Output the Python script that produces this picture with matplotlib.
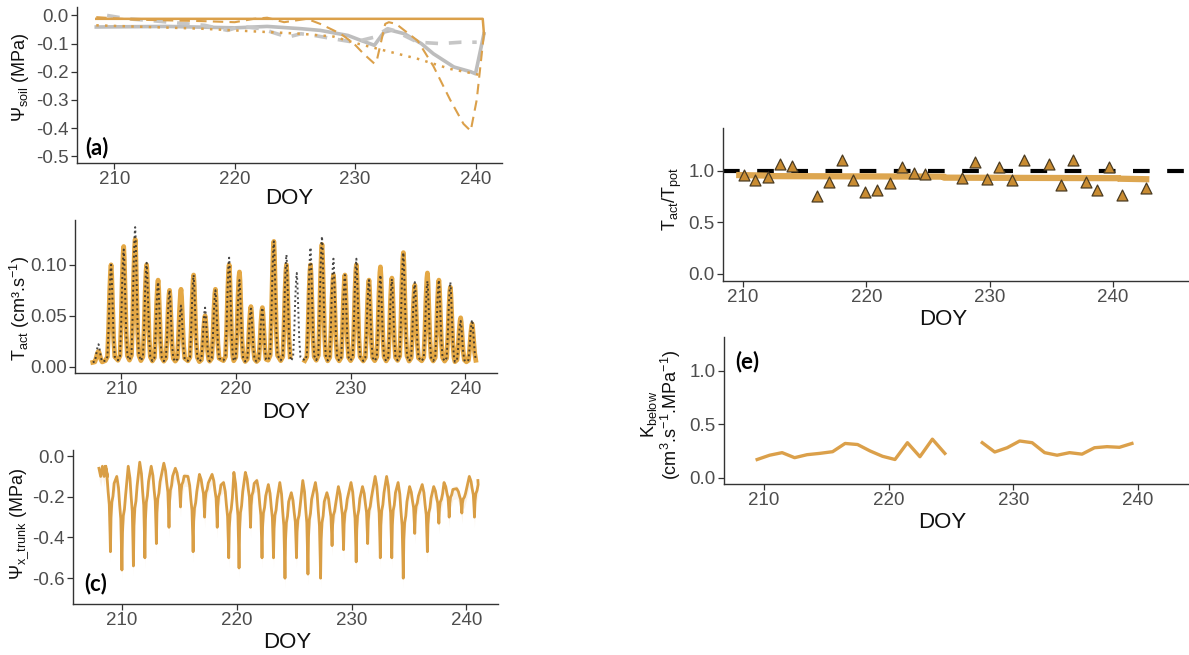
import numpy as np
import matplotlib
matplotlib.use("Agg")
import matplotlib.pyplot as plt

plt.rcParams['font.family'] = ['Liberation Sans', 'DejaVu Sans']
plt.rcParams['axes.unicode_minus'] = False
plt.rcParams['mathtext.fontset'] = 'custom'
plt.rcParams['mathtext.rm'] = 'Liberation Sans'
plt.rcParams['mathtext.it'] = 'Liberation Sans'

ORANGE = '#DBA04A'
GRAY = '#BDBDBD'
TICK_TXT = '#4D4D4D'
LINE_C = '#333333'

# ---- (a) soil water potential -------------------------------------------
a_orange_solid_x = [208.5, 240.6, 240.7]
a_orange_solid_y = [-0.012, -0.012, -0.065]
a_orange_dash_x = [208.5, 211.7, 217.2, 220.0, 221.6, 222.7, 224.1, 226.0, 227.1, 228.8, 229.9,
                   230.7, 231.6, 231.8, 232.5, 232.8, 233.4, 235.2, 236.5, 237.9, 239.0, 239.6,
                   240.1, 240.7]
a_orange_dash_y = [-0.006, -0.015, -0.02, -0.024, -0.012, -0.008, -0.024, -0.012, -0.03, -0.065, -0.1,
                   -0.136, -0.171, -0.16, -0.03, -0.024, -0.03, -0.09, -0.18, -0.3, -0.385, -0.41,
                   -0.3, -0.065]
a_orange_dot_x = [208.5, 217.2, 225.5, 228.2, 230.2, 232.4, 235.2, 237.9, 239.9, 240.5]
a_orange_dot_y = [-0.035, -0.047, -0.065, -0.075, -0.1, -0.124, -0.154, -0.19, -0.207, -0.213]
a_gray_solid_x = [208.5, 214.4, 220.0, 222.7, 225.5, 227.1, 229.4, 230.5, 231.6, 232.4, 233.0,
                  234.1, 235.5, 236.5, 238.2, 239.6, 240.0, 240.7]
a_gray_solid_y = [-0.041, -0.039, -0.044, -0.039, -0.047, -0.053, -0.071, -0.089, -0.106, -0.059,
                  -0.053, -0.065, -0.1, -0.136, -0.183, -0.2, -0.207, -0.065]
a_gray_dash_x = [209.4, 211.1, 213.0, 216.1, 217.5, 219.4, 220.5, 222.2, 223.5, 224.4, 225.5,
                 226.6, 228.2, 229.9, 231.6, 232.7, 233.2, 235.2, 237.1, 238.8, 240.1]
a_gray_dash_y = [0.0, -0.012, -0.018, -0.03, -0.035, -0.053, -0.039, -0.047, -0.065, -0.077, -0.065,
                 -0.071, -0.083, -0.095, -0.077, -0.047, -0.053, -0.095, -0.1, -0.095, -0.095]

# ---- (b) transpiration: daily peaks (model = orange, observed = dotted) ----
b_peak_doy = [208.0, 209.1, 210.2, 211.2, 212.2, 213.2, 214.2, 215.2, 216.3, 217.3, 218.2,
              219.4, 220.3, 221.3, 222.3, 223.3, 224.4, 225.3, 226.5, 227.5, 228.5, 229.5,
              230.5, 231.6, 232.6, 233.6, 234.6, 235.6, 236.7, 237.7, 238.7, 239.6, 240.6]
b_model_peak = [0.015, 0.100, 0.118, 0.125, 0.100, 0.085, 0.075, 0.076, 0.090, 0.050, 0.076,
                0.100, 0.093, 0.059, 0.058, 0.123, 0.100, np.nan, 0.100, 0.120, 0.090, 0.090,
                0.100, 0.085, 0.098, 0.087, 0.112, 0.080, 0.092, 0.085, 0.078, 0.048, 0.042]
b_obs_peak = [0.022, 0.100, 0.115, 0.137, 0.102, 0.083, 0.075, 0.060, 0.090, 0.058, 0.075,
              0.107, 0.085, 0.057, 0.058, 0.123, 0.110, 0.092, 0.117, 0.128, 0.106, 0.090,
              0.106, 0.085, 0.090, 0.086, 0.112, 0.083, 0.084, 0.085, 0.083, 0.045, 0.046]
b_night = 0.004
# typical shape of one daily peak (offset in days, fraction of peak)
b_shape_dt = [-0.5, -0.32, -0.22, -0.13, -0.05, 0.0, 0.05, 0.13, 0.22, 0.32]
b_shape_frac = [0.02, 0.06, 0.35, 0.72, 0.94, 1.0, 0.9, 0.6, 0.25, 0.06]

# ---- (c) trunk xylem water potential: predawn and midday minimum per day ----
c_lead_x = [208.0, 208.15, 208.3, 208.45, 208.6, 208.75]
c_lead_y = [-0.06, -0.1, -0.05, -0.1, -0.05, -0.1]
c_min_doy = [209.0, 210.0, 211.0, 212.0, 213.0, 214.1, 215.1, 216.2, 217.2, 218.3, 219.3,
             220.2, 221.2, 222.2, 223.2, 224.2, 225.2, 226.2, 227.3, 228.3, 229.3, 230.4,
             231.4, 232.5, 233.5, 234.5, 235.5, 236.6, 237.6, 238.5, 239.6, 240.7]
c_min = [-0.47, -0.56, -0.54, -0.50, -0.43, -0.35, -0.25, -0.47, -0.30, -0.35, -0.50,
         -0.55, -0.35, -0.50, -0.50, -0.60, -0.50, -0.58, -0.60, -0.44, -0.46, -0.52,
         -0.43, -0.50, -0.50, -0.60, -0.38, -0.47, -0.33, -0.30, -0.28, -0.30]
c_predawn = [-0.05, -0.10, -0.05, -0.03, -0.05, -0.035, -0.06, -0.10, -0.09, -0.09, -0.13,
             -0.08, -0.08, -0.12, -0.14, -0.13, -0.18, -0.12, -0.13, -0.18, -0.15, -0.13,
             -0.15, -0.10, -0.10, -0.13, -0.15, -0.14, -0.15, -0.13, -0.16, -0.10]
c_end = -0.12
c_shape_dt = [-0.45, -0.3, -0.2, -0.1, -0.03, 0.0, 0.05, 0.12, 0.22, 0.32]
c_shape_frac = [0.0, 0.12, 0.3, 0.45, 0.8, 1.0, 0.6, 0.42, 0.35, 0.2]

# ---- (d) Tact/Tpot -------------------------------------------------------
d_doy = [210.05, 211.0, 212.0, 213.0, 214.0, 216.0, 217.0, 218.0, 218.9, 219.9, 220.9, 221.9,
         222.9, 223.9, 224.8, 227.8, 228.8, 229.8, 230.8, 231.8, 232.8, 234.8, 235.8, 236.8,
         237.8, 238.7, 239.7, 240.7, 242.7]
d_ratio = [0.96, 0.91, 0.945, 1.07, 1.05, 0.76, 0.89, 1.11, 0.91, 0.80, 0.82, 0.88,
           1.035, 0.98, 0.97, 0.93, 1.09, 0.92, 1.04, 0.91, 1.11, 1.07, 0.86, 1.11,
           0.89, 0.82, 1.04, 0.77, 0.83]
d_fit_x = [209.7, 212.0, 212.0, 226.3, 226.3, 240.5, 240.5, 242.7]
d_fit_y = [0.96, 0.955, 0.95, 0.945, 0.935, 0.93, 0.925, 0.92]

# ---- (e) below-ground conductance ---------------------------------------
e_doy = [209.45, 210.45, 211.45, 212.45, 213.45, 214.45, 215.5, 216.5, 217.5, 218.5, 219.5,
         220.5, 221.5, 222.5, 223.5, 224.5, 225.5, 226.5, 227.5, 228.5, 229.5, 230.5,
         231.5, 232.5, 233.5, 234.5, 235.5, 236.5, 237.5, 238.5, 239.5]
e_k = [0.17, 0.21, 0.234, 0.187, 0.215, 0.227, 0.243, 0.32, 0.31, 0.25, 0.20,
       0.17, 0.327, 0.196, 0.36, 0.227, np.nan, np.nan, 0.327, 0.24, 0.28, 0.343,
       0.327, 0.234, 0.21, 0.234, 0.22, 0.28, 0.29, 0.284, 0.32]

W, H = 1189, 655
fig = plt.figure(figsize=(W / 100, H / 100), dpi=100)


def px_axes(left, top, right, bottom):
    return fig.add_axes([left / W, 1 - bottom / H, (right - left) / W, (bottom - top) / H])


def style(ax, xlim, ylim, yticks, yfmt, doy_xy, ylab, ylab_xy):
    for s in ['top', 'right']:
        ax.spines[s].set_visible(False)
    for s in ['left', 'bottom']:
        ax.spines[s].set_color(LINE_C)
        ax.spines[s].set_linewidth(1.0)
    ax.set_xlim(*xlim)
    ax.set_ylim(*ylim)
    ax.set_xticks([210, 220, 230, 240])
    ax.set_yticks(yticks)
    ax.set_yticklabels([yfmt.format(v) for v in yticks])
    ax.tick_params(length=4, width=0.9, color=LINE_C, labelcolor=TICK_TXT, labelsize=13.5, pad=2)
    ax.set_xlabel('DOY', fontsize=16, color='#111111')
    ax.xaxis.set_label_coords(*doy_xy)
    ax.xaxis.label.set_va('center')
    ax.set_ylabel(ylab, fontsize=13, color='#111111', linespacing=1.0)
    ax.yaxis.set_label_coords(*ylab_xy)
    ax.yaxis.label.set_va('center')
    ax.patch.set_alpha(0)


# (a)
ax = px_axes(77, 7, 502, 163)
ax.plot(a_gray_solid_x, a_gray_solid_y, color=GRAY, lw=2.6)
ax.plot(a_gray_dash_x, a_gray_dash_y, color='#C6C6C6', lw=2.6, dashes=(3.5, 3))
ax.plot(a_orange_solid_x, a_orange_solid_y, color=ORANGE, lw=1.8)
ax.plot(a_orange_dash_x, a_orange_dash_y, color=ORANGE, lw=1.5, dashes=(5, 3))
ax.plot(a_orange_dot_x, a_orange_dot_y, color=ORANGE, lw=1.8, dashes=(1, 2.5))
style(ax, (206.9, 242.2), (-0.524, 0.03), [0.0, -0.1, -0.2, -0.3, -0.4, -0.5], '{:.1f}',
      (0.5, -0.23), r'$\Psi_{soil}$ (MPa)', (-0.134, 0.55))
ax.text(0.047, 0.1, '(a)', transform=ax.transAxes, fontsize=16, fontweight='bold',
        family='Lato', ha='center', va='center')

# (b)
ax = px_axes(75, 220, 497, 373)
bx_m, by_m, bx_o, by_o = [], [], [], []
for t0, pm, po in zip(b_peak_doy, b_model_peak, b_obs_peak):
    for dt, f in zip(b_shape_dt, b_shape_frac):
        bx_m.append(t0 + dt)
        by_m.append(b_night + f * (pm - b_night))
        bx_o.append(t0 + dt)
        by_o.append(b_night + f * (po - b_night))
ax.plot(bx_m, by_m, color='#E4A845', lw=3.4, solid_joinstyle='round')
ax.plot(bx_o, by_o, color='#2a2a2a', lw=1.4, dashes=(1, 1.5), alpha=0.85)
style(ax, (205.95, 242.77), (-0.0062, 0.144), [0.0, 0.05, 0.10], '{:.2f}',
      (0.5, -0.26), r'$\mathregular{T_{act}}$ (cm³.s$^{\mathregular{-1}}$)', (-0.13, 0.425))

# (c)
ax = px_axes(73, 450, 498, 604)
cx, cy = list(c_lead_x), list(c_lead_y)
for t0, mn, pre in zip(c_min_doy, c_min, c_predawn):
    for dt, f in zip(c_shape_dt, c_shape_frac):
        cx.append(t0 + dt)
        cy.append(pre + f * (mn - pre))
cx.append(241.0)
cy.append(c_end)
cx, cy = np.array(cx), np.array(cy)
ax.fill_between(cx, cy - 0.05, cy + 0.015, color=ORANGE, alpha=0.12, lw=0)
ax.plot(cx, cy, color='#D99E45', lw=2.0)
style(ax, (205.74, 242.75), (-0.727, 0.03), [0.0, -0.2, -0.4, -0.6], '{:.1f}',
      (0.503, -0.25), r'$\Psi_{x\_trunk}$ (MPa)', (-0.125, 0.52))
ax.text(0.054, 0.136, '(c)', transform=ax.transAxes, fontsize=16, fontweight='bold',
        family='Lato', ha='center', va='center')

# (d)
ax = px_axes(723, 128, 1200, 281)
ax.axhline(1.0, color='black', lw=3.0, dashes=(4, 4.2), zorder=1)
ax.plot(d_fit_x, d_fit_y, color='#DDA650', lw=4.5, zorder=2)
ax.scatter(d_doy, d_ratio, marker='^', s=62, facecolor='#C98C32', edgecolor='#4a3b22',
           linewidth=0.9, zorder=3)
style(ax, (208.38, 247.06), (-0.068, 1.417), [0.0, 0.5, 1.0], '{:.1f}',
      (0.461, -0.25), r'$\mathregular{T_{act}/T_{pot}}$', (-0.107, 0.536))

# (e)
ax = px_axes(724, 337, 1200, 484)
ax.plot(e_doy, e_k, color='#DBA04A', lw=2.4)
style(ax, (206.79, 244.96), (-0.059, 1.315), [0.0, 0.5, 1.0], '{:.1f}',
      (0.458, -0.265),
      '$\\mathregular{K_{below}}$\n(cm$^{\\mathregular{3}}$.s$^{\\mathregular{-1}}$.MPa$^{\\mathregular{-1}}$)',
      (-0.132, 0.47))
ax.text(0.05, 0.83, '(e)', transform=ax.transAxes, fontsize=16, fontweight='bold',
        family='Lato', ha='center', va='center')

fig.savefig('out.png', dpi=100)
